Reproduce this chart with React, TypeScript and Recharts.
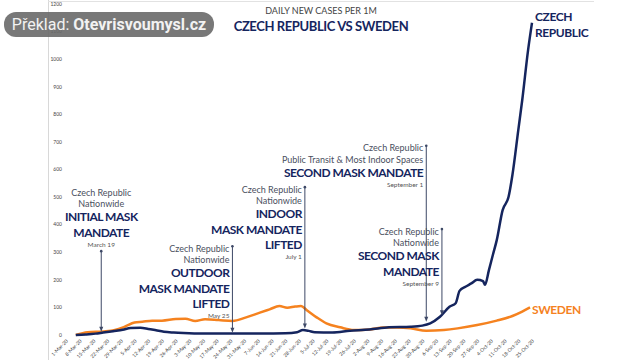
import React from "react";
import { LineChart, Line, XAxis, YAxis, ReferenceLine, ReferenceDot } from "recharts";

const tickLabels = [
  "1-Mar-20", "8-Mar-20", "15-Mar-20", "22-Mar-20", "29-Mar-20", "5-Apr-20", "12-Apr-20",
  "19-Apr-20", "26-Apr-20", "3-May-20", "10-May-20", "17-May-20", "24-May-20", "31-May-20",
  "7-Jun-20", "14-Jun-20", "21-Jun-20", "28-Jun-20", "5-Jul-20", "12-Jul-20", "19-Jul-20",
  "26-Jul-20", "2-Aug-20", "9-Aug-20", "16-Aug-20", "23-Aug-20", "30-Aug-20", "6-Sep-20",
  "13-Sep-20", "20-Sep-20", "27-Sep-20", "4-Oct-20", "11-Oct-20", "18-Oct-20", "25-Oct-20",
];
const tickDays = tickLabels.map((_, i) => i * 7);
const yTicks = [0, 100, 200, 300, 400, 500, 600, 700, 800, 900, 1000, 1100, 1200];

// day index counted from 1 March 2020
const czechDays = [5, 10, 15, 19, 24, 29, 33, 38, 42, 46, 50, 55, 60, 70, 86, 100, 112, 118, 121, 124, 127, 136, 145, 155, 165, 176, 182, 186, 191, 196, 199, 201, 204, 207, 210, 213, 214, 216, 218, 220, 223, 226, 228, 231, 233, 236, 238];
const czechCases = [0, 2, 5, 9, 14, 19, 25, 26, 22, 17, 12, 9, 7, 5, 5, 5, 6, 10, 18, 15, 10, 9, 15, 20, 28, 30, 34, 42, 66, 103, 115, 160, 175, 187, 200, 195, 182, 235, 290, 344, 453, 500, 580, 743, 851, 1033, 1132];

const swedenDays = [5, 11, 19, 25, 30, 35, 39, 44, 49, 56, 61, 66, 71, 78, 85, 92, 99, 104, 109, 113, 117, 120, 123, 128, 133, 140, 147, 155, 162, 169, 176, 184, 193, 200, 210, 220, 228, 233, 237];
const swedenCases = [0, 10, 13, 18, 30, 45, 48, 52, 52, 58, 59, 51, 57, 54, 51, 64, 81, 93, 105, 99, 103, 105, 90, 64, 42, 28, 18, 20, 27, 27, 24, 15, 18, 24, 36, 52, 69, 85, 100];

const czechData = czechDays.map((day, i) => ({ day, cases: czechCases[i] }));
const swedenData = swedenDays.map((day, i) => ({ day, cases: swedenCases[i] }));

type Kind = "s" | "b" | "d";
const annotations: { day: number; top: number; tip: number; centered?: boolean; lines: [string, Kind][] }[] = [
  { day: 18, top: 304, tip: 12, centered: true, lines: [["Czech Republic", "s"], ["Nationwide", "s"], ["INITIAL MASK", "b"], ["MANDATE", "b"], ["March 19", "d"]] },
  { day: 85, top: 322, tip: 8, lines: [["Czech Republic", "s"], ["Nationwide", "s"], ["OUTDOOR", "b"], ["MASK MANDATE", "b"], ["LIFTED", "b"], ["May 25", "d"]] },
  { day: 122, top: 536, tip: 24, lines: [["Czech Republic", "s"], ["Nationwide", "s"], ["INDOOR", "b"], ["MASK MANDATE", "b"], ["LIFTED", "b"], ["July 1", "d"]] },
  { day: 184, top: 686, tip: 48, lines: [["Czech Republic", "s"], ["Public Transit & Most Indoor Spaces", "s"], ["SECOND MASK MANDATE", "b"], ["September 1", "d"]] },
  { day: 192, top: 384, tip: 72, lines: [["Czech Republic", "s"], ["Nationwide", "s"], ["SECOND MASK", "b"], ["MANDATE", "b"], ["September 9", "d"]] },
];

const NAVY = "#15255e";
const ORANGE = "#f5821f";
const FONT = "Lato, 'Open Sans', sans-serif";

const kindStyle: Record<Kind, { size: number; weight: number; fill: string; ls: number }> = {
  s: { size: 9, weight: 400, fill: "#4a4f5e", ls: 0 },
  b: { size: 12, weight: 700, fill: NAVY, ls: -0.5 },
  d: { size: 6.5, weight: 400, fill: "#555", ls: 0 },
};

function gap(prev: Kind, cur: Kind) {
  if (prev === "s" && cur === "s") return 11.7;
  if (prev === "s" && cur === "b") return 13;
  if (prev === "b" && cur === "b") return 15.3;
  return 12.5;
}

function arrowShape(a: (typeof annotations)[number]) {
  return (p: any) => {
    const { x1, y1, y2 } = p;
    let y = a.centered ? y1 - 59 : y1 + 2;
    const tx = a.centered ? x1 : x1 - 3;
    const texts = a.lines.map(([t, k], i) => {
      if (i > 0) y += gap(a.lines[i - 1][1], k);
      const st = kindStyle[k];
      return (
        <text key={i} x={tx} y={y} textAnchor={a.centered ? "middle" : "end"} dominantBaseline="central"
          fontFamily={FONT} fontSize={st.size} fontWeight={st.weight} fill={st.fill} letterSpacing={st.ls}>
          {t}
        </text>
      );
    });
    return (
      <g>
        <line x1={x1} y1={y1} x2={x1} y2={y2 - 4} stroke="#3d4866" strokeWidth={1} />
        <circle cx={x1} cy={y1} r={1.3} fill="#3d4866" />
        <polygon points={`${x1 - 2},${y2 - 5} ${x1 + 2},${y2 - 5} ${x1},${y2}`} fill="#3d4866" />
        {texts}
      </g>
    );
  };
}

function XTick(props: any) {
  const { x, y, payload } = props;
  const label = tickLabels[tickDays.indexOf(payload.value)];
  return (
    <text x={x + 1} y={y + 1} transform={`rotate(-45 ${x + 1} ${y + 1})`} textAnchor="end"
      dominantBaseline="central" fontSize={5} fontFamily={FONT} fill="#444">
      {label}
    </text>
  );
}

export default function App() {
  return (
    <div style={{ position: "absolute", left: 0, top: 0, width: 640, height: 360, background: "#fff", overflow: "hidden" }}>
      <div style={{ position: "absolute", left: 48, top: 0, width: 1, height: 360, background: "#d8d8d8" }} />
      <div style={{ position: "absolute", left: 48, top: 1, width: 546, height: 1, background: "#e2e2e2" }} />
      <LineChart width={640} height={360} margin={{ top: 4, right: 108, bottom: 0, left: 0 }}>
        <XAxis type="number" dataKey="day" domain={[0, 238]} ticks={tickDays} interval={0}
          height={25} axisLine={false} tickLine={false} tickSize={0} tickMargin={4} tick={<XTick />} />
        <YAxis type="number" domain={[0, 1200]} ticks={yTicks} width={66} axisLine={false} tickLine={false}
          tickSize={0} tickMargin={4} tick={{ fontSize: 5, fill: "#444", fontFamily: FONT }} />
        <Line data={swedenData} dataKey="cases" type="monotone" stroke={ORANGE} strokeWidth={2.5}
          dot={false} isAnimationActive={false} />
        <Line data={czechData} dataKey="cases" type="monotone" stroke={NAVY} strokeWidth={2.5}
          dot={false} isAnimationActive={false} />
        {annotations.map((a, i) => (
          <ReferenceLine key={i} segment={[{ x: a.day, y: a.top }, { x: a.day, y: a.tip }]} shape={arrowShape(a)} />
        ))}
        <ReferenceDot x={238} y={1132} r={0} shape={(p: any) => (
          <g>
            <text x={p.cx + 3} y={p.cy - 6} dominantBaseline="central" fontFamily={FONT} fontSize={12} letterSpacing={-0.4} fontWeight={700} fill={NAVY}>CZECH</text>
            <text x={p.cx + 3} y={p.cy + 10} dominantBaseline="central" fontFamily={FONT} fontSize={12} letterSpacing={-0.4} fontWeight={700} fill={NAVY}>REPUBLIC</text>
          </g>
        )} />
        <ReferenceDot x={237} y={100} r={0} shape={(p: any) => (
          <text x={p.cx + 2} y={p.cy + 2} dominantBaseline="central" fontFamily={FONT} fontSize={12} letterSpacing={-0.4} fontWeight={700} fill={ORANGE}>SWEDEN</text>
        )} />
      </LineChart>
      <div style={{ position: "absolute", left: 0, width: 642, top: 5, textAlign: "center", fontFamily: FONT, fontSize: 9, color: "#444" }}>
        DAILY NEW CASES PER 1M
      </div>
      <div style={{ position: "absolute", left: 0, width: 642, top: 18, textAlign: "center", fontFamily: FONT, fontSize: 13, letterSpacing: -0.4, fontWeight: 700, color: NAVY }}>
        CZECH REPUBLIC VS SWEDEN
      </div>
      <div style={{ position: "absolute", left: 4, top: 12, width: 210, height: 25, borderRadius: 12, background: "rgba(105,105,105,0.9)", color: "#f2f2f2", fontFamily: "Roboto, sans-serif", fontSize: 16, lineHeight: "25px", textAlign: "center", whiteSpace: "nowrap" }}>
        Překlad: <b>Otevrisvoumysl.cz</b>
      </div>
    </div>
  );
}
